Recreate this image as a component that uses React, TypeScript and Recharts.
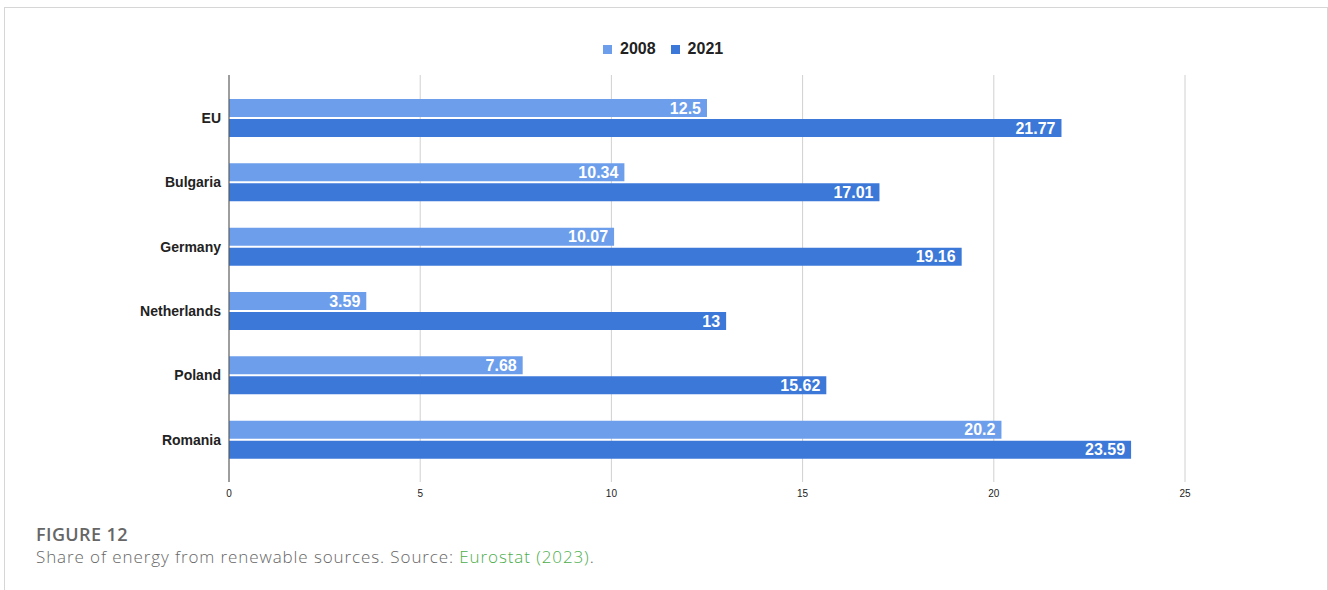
import React from 'react';
import { BarChart, Bar, XAxis, YAxis, CartesianGrid, LabelList } from 'recharts';

const countries = ['EU', 'Bulgaria', 'Germany', 'Netherlands', 'Poland', 'Romania'];
const share2008 = [12.5, 10.34, 10.07, 3.59, 7.68, 20.2];
const share2021 = [21.77, 17.01, 19.16, 13, 15.62, 23.59];
const xTicks = [0, 5, 10, 15, 20, 25];

const series = [
  { key: 'y2008', name: '2008', color: '#6d9eeb' },
  { key: 'y2021', name: '2021', color: '#3c78d8' },
];

const data = countries.map((name, i) => ({
  name,
  y2008: share2008[i],
  y2021: share2021[i],
}));

const FONT = '"Liberation Sans", Arial, sans-serif';

const App: React.FC = () => {
  return (
    <div style={{ position: 'absolute', left: 0, top: 0, width: 1328, height: 590, background: '#fff', overflow: 'hidden' }}>
      {/* frame around the figure */}
      <div
        style={{
          position: 'absolute', left: 4, top: 7, width: 1322, height: 600,
          borderLeft: '1px solid #d6d6d6', borderTop: '1px solid #d6d6d6', borderRight: '1px solid #d6d6d6',
        }}
      />

      {/* legend */}
      <div
        style={{
          position: 'absolute', left: 603, top: 39, display: 'flex',
          gap: 15, fontFamily: FONT, fontWeight: 'bold', fontSize: 16, color: '#222', lineHeight: '20px',
        }}
      >
        {series.map(s => (
          <div key={s.key} style={{ display: 'flex', alignItems: 'center', gap: 8 }}>
            <span style={{ width: 9, height: 9, background: s.color, display: 'inline-block' }} />
            <span>{s.name}</span>
          </div>
        ))}
      </div>

      <div style={{ position: 'absolute', left: 0, top: 0 }}>
        <BarChart
          width={1328}
          height={512}
          data={data}
          layout="vertical"
          margin={{ top: 75, right: 143, bottom: 0, left: 0 }}
          barCategoryGap={13}
          barGap={2}
        >
          <CartesianGrid horizontal={false} stroke="#d0d0d0" />
          <XAxis
            type="number"
            domain={[0, 25]}
            ticks={xTicks}
            height={30}
            axisLine={false}
            tickLine={false}
            tickMargin={2}
            tick={{ fontSize: 10, fill: '#222', fontFamily: FONT }}
          />
          <YAxis
            type="category"
            dataKey="name"
            width={229}
            padding={{ top: 11, bottom: 10 }}
            axisLine={{ stroke: '#555', strokeWidth: 1 }}
            tickLine={false}
            tick={{ fontSize: 14, fontWeight: 'bold', fill: '#222', fontFamily: FONT }}
          />
          {series.map(s => (
            <Bar key={s.key} dataKey={s.key} name={s.name} fill={s.color} isAnimationActive={false}>
              <LabelList
                dataKey={s.key}
                position="insideRight"
                offset={6}
                fill="#fff"
                style={{ fontSize: 16, fontWeight: 'bold', fontFamily: FONT }}
              />
            </Bar>
          ))}
        </BarChart>
      </div>

      {/* caption */}
      <div style={{ position: 'absolute', left: 36, top: 523, fontFamily: '"Open Sans", sans-serif', color: '#666' }}>
        <div style={{ fontSize: 18, fontWeight: 600, lineHeight: '23px', letterSpacing: 0.4 }}>FIGURE 12</div>
        <div style={{ fontSize: 17, fontWeight: 300, lineHeight: '22px', letterSpacing: 0.9 }}>
          Share of energy from renewable sources. Source: <span style={{ color: '#4cae4c' }}>Eurostat (2023)</span>.
        </div>
      </div>
    </div>
  );
};

export default App;
